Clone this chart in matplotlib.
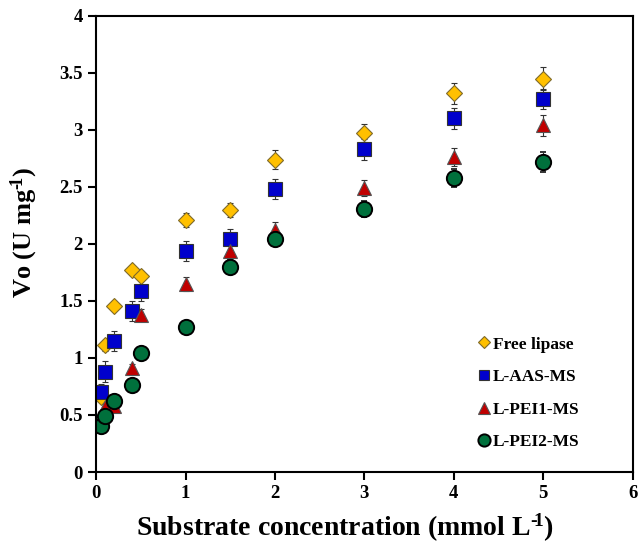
import matplotlib
matplotlib.use("Agg")
import matplotlib.pyplot as plt

# === Data ===
conc = [0.05, 0.1, 0.2, 0.4, 0.5, 1, 1.5, 2, 3, 4, 5]

free_lipase = [0.66, 1.11, 1.46, 1.77, 1.72, 2.21, 2.30, 2.74, 2.97, 3.32, 3.45]
free_err = [0.04, 0.05, 0.04, 0.04, 0.04, 0.06, 0.06, 0.08, 0.08, 0.09, 0.10]

l_aas = [0.70, 0.88, 1.15, 1.41, 1.59, 1.94, 2.04, 2.48, 2.83, 3.10, 3.27]
l_aas_err = [0.07, 0.09, 0.09, 0.09, 0.09, 0.09, 0.09, 0.09, 0.09, 0.09, 0.09]

l_pei1 = [0.45, 0.57, 0.58, 0.91, 1.38, 1.65, 1.94, 2.12, 2.49, 2.76, 3.04]
l_pei1_err = [0.03, 0.03, 0.03, 0.04, 0.05, 0.06, 0.07, 0.07, 0.07, 0.08, 0.09]

l_pei2 = [0.40, 0.49, 0.62, 0.76, 1.04, 1.27, 1.80, 2.04, 2.31, 2.58, 2.72]
l_pei2_err = [0.03, 0.03, 0.03, 0.04, 0.04, 0.05, 0.06, 0.06, 0.07, 0.08, 0.09]

# === Style ===
plt.rcParams.update({
    "font.family": "serif",
    "font.serif": ["Liberation Serif", "DejaVu Serif"],
    "font.weight": "bold",
    "mathtext.fontset": "custom",
    "mathtext.rm": "Liberation Serif:bold",
    "mathtext.bf": "Liberation Serif:bold",
    "mathtext.default": "regular",
})

fig = plt.figure(figsize=(6.41, 5.46), dpi=100)
ax = fig.add_axes([0.15, 0.1355, 0.837, 0.8355])

series = [
    ("Free lipase", free_lipase, free_err, "D", "#FFC000", "#7F6A2A", 8, 0.8),
    ("L-AAS-MS", l_aas, l_aas_err, "s", "#0000CC", "#333333", 9.5, 0.8),
    ("L-PEI1-MS", l_pei1, l_pei1_err, "^", "#C00000", "#555555", 10.5, 0.8),
    ("L-PEI2-MS", l_pei2, l_pei2_err, "o", "#00703C", "#000000", 11, 1.4),
]

for name, vals, err, mk, fc, ec, ms, mew in series:
    ax.errorbar(conc, vals, yerr=err, fmt=mk, markerfacecolor=fc,
                markeredgecolor=ec, markersize=ms, markeredgewidth=mew,
                ecolor="#333333", elinewidth=0.8, capsize=2.5, capthick=0.8,
                label=name)

ax.set_xlim(0, 6)
ax.set_ylim(0, 4)
ax.set_xticks(range(0, 7))
ax.set_yticks([0, 0.5, 1, 1.5, 2, 2.5, 3, 3.5, 4])
ax.set_yticklabels(["0", "0.5", "1", "1.5", "2", "2.5", "3", "3.5", "4"])

for sp in ax.spines.values():
    sp.set_linewidth(1.5)
ax.tick_params(direction="out", length=6, width=1.5, labelsize=13.5)
for lab in ax.get_xticklabels() + ax.get_yticklabels():
    lab.set_fontweight("bold")

ax.set_xlabel("Substrate concentration (mmol L$^{\u2010\\!1}$)",
              fontsize=20, fontweight="bold")
ax.xaxis.set_label_coords(0.464, -0.088)
ax.set_ylabel("Vo (U mg$^{\u2010\\!1}$)", fontsize=19, fontweight="bold")
ax.yaxis.set_label_coords(-0.105, 0.526)

handles, labels = ax.get_legend_handles_labels()
handles = [h[0] for h in handles]
leg = ax.legend(handles, labels, loc="lower right", bbox_to_anchor=(0.93, 0.013),
                frameon=False, markerscale=0.8, handlelength=0.6,
                handletextpad=0.2, labelspacing=0.95,
                prop={"weight": "bold", "size": 12.5})

fig.savefig("out.png", dpi=100)
